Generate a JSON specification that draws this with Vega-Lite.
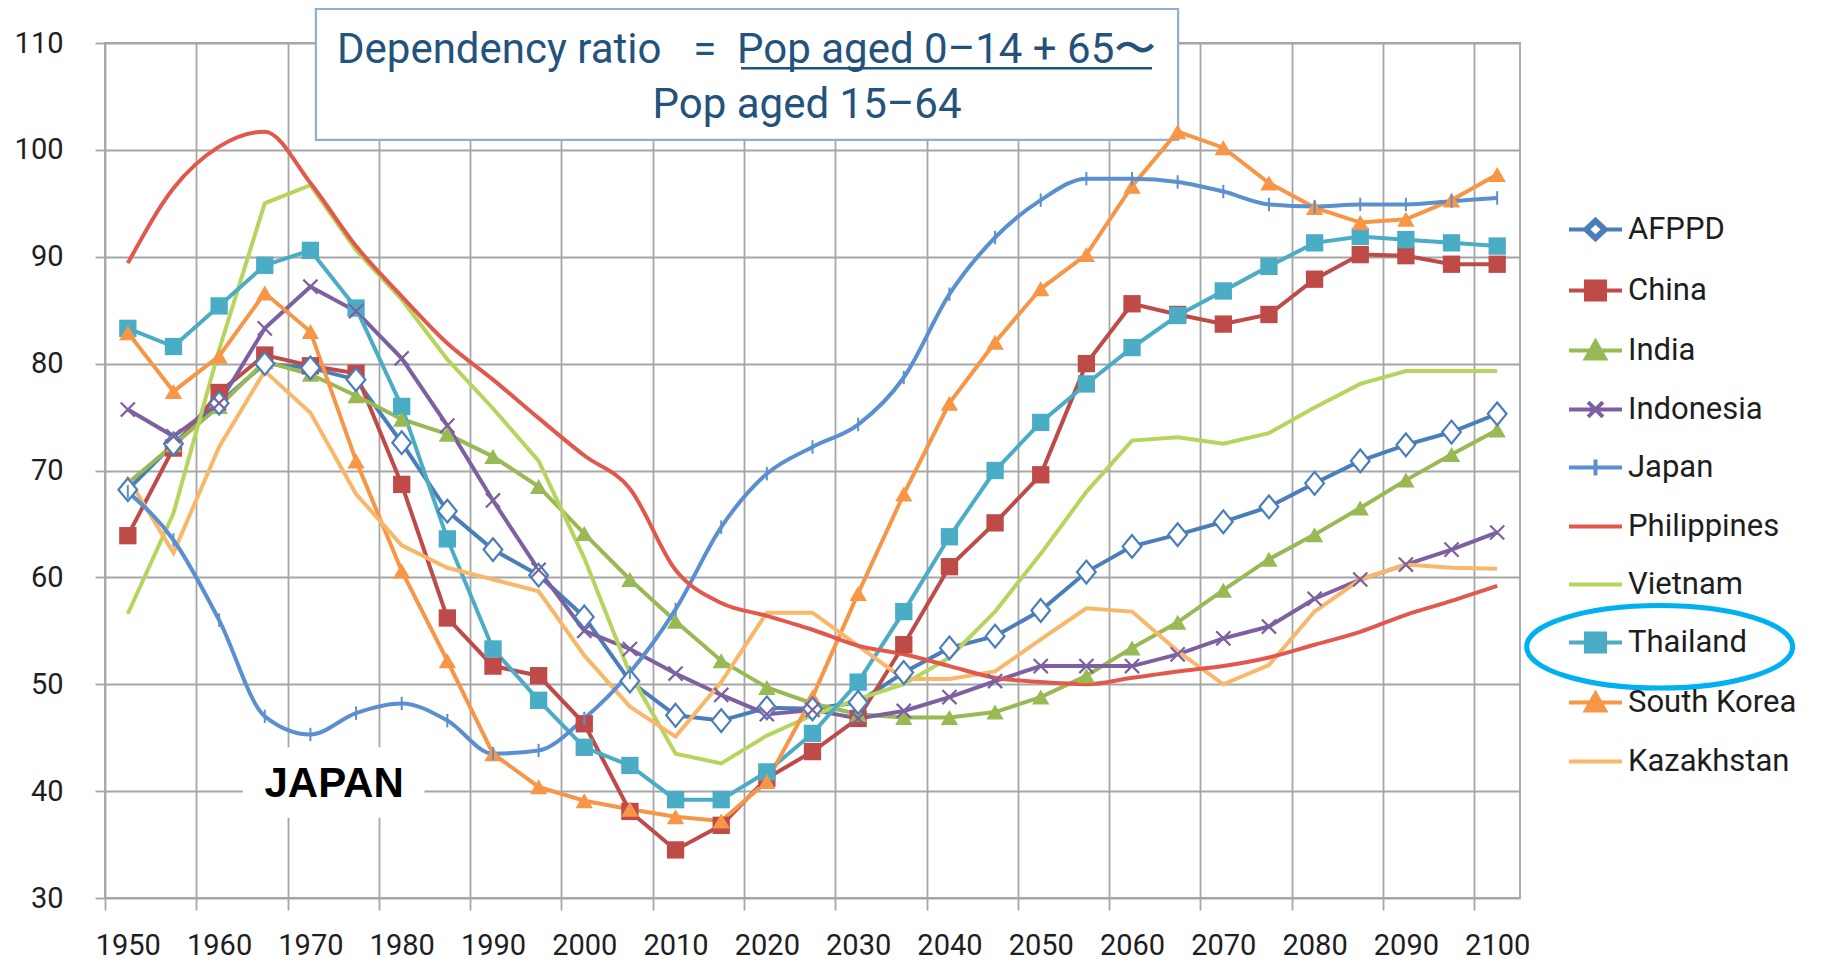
{
"$schema":"https://vega.github.io/schema/vega-lite/v6.json",
"width":1415,"height":855,
"autosize":{"type":"none"},
"padding":{"left":105,"top":43,"right":304,"bottom":66},
"background":"white",
"config":{"view":{"stroke":"#a6a6a6","strokeWidth":1.8},"font":"Roboto"},
"resolve":{"axis":{"x":"independent"}},
"datasets":{"dr":[
{"country":"AFPPD","year":1950,"value":68.2},{"country":"AFPPD","year":1955,"value":72.5},{"country":"AFPPD","year":1960,"value":76.3},{"country":"AFPPD","year":1965,"value":80.0},{"country":"AFPPD","year":1970,"value":79.6},{"country":"AFPPD","year":1975,"value":78.5},{"country":"AFPPD","year":1980,"value":72.6},{"country":"AFPPD","year":1985,"value":66.2},{"country":"AFPPD","year":1990,"value":62.6},{"country":"AFPPD","year":1995,"value":60.2},{"country":"AFPPD","year":2000,"value":56.3},{"country":"AFPPD","year":2005,"value":50.3},{"country":"AFPPD","year":2010,"value":47.1},{"country":"AFPPD","year":2015,"value":46.6},{"country":"AFPPD","year":2020,"value":47.8},{"country":"AFPPD","year":2025,"value":47.7},{"country":"AFPPD","year":2030,"value":48.3},{"country":"AFPPD","year":2035,"value":51.1},{"country":"AFPPD","year":2040,"value":53.4},{"country":"AFPPD","year":2045,"value":54.5},{"country":"AFPPD","year":2050,"value":56.9},{"country":"AFPPD","year":2055,"value":60.5},{"country":"AFPPD","year":2060,"value":62.9},{"country":"AFPPD","year":2065,"value":64.0},{"country":"AFPPD","year":2070,"value":65.2},{"country":"AFPPD","year":2075,"value":66.6},{"country":"AFPPD","year":2080,"value":68.8},{"country":"AFPPD","year":2085,"value":70.9},{"country":"AFPPD","year":2090,"value":72.4},{"country":"AFPPD","year":2095,"value":73.6},{"country":"AFPPD","year":2100,"value":75.3},
{"country":"China","year":1950,"value":63.9},{"country":"China","year":1955,"value":72.1},{"country":"China","year":1960,"value":77.3},{"country":"China","year":1965,"value":80.8},{"country":"China","year":1970,"value":79.8},{"country":"China","year":1975,"value":79.1},{"country":"China","year":1980,"value":68.7},{"country":"China","year":1985,"value":56.2},{"country":"China","year":1990,"value":51.7},{"country":"China","year":1995,"value":50.8},{"country":"China","year":2000,"value":46.3},{"country":"China","year":2005,"value":38.1},{"country":"China","year":2010,"value":34.5},{"country":"China","year":2015,"value":36.8},{"country":"China","year":2020,"value":41.2},{"country":"China","year":2025,"value":43.7},{"country":"China","year":2030,"value":46.8},{"country":"China","year":2035,"value":53.7},{"country":"China","year":2040,"value":61.0},{"country":"China","year":2045,"value":65.1},{"country":"China","year":2050,"value":69.6},{"country":"China","year":2055,"value":80.0},{"country":"China","year":2060,"value":85.6},{"country":"China","year":2065,"value":84.6},{"country":"China","year":2070,"value":83.7},{"country":"China","year":2075,"value":84.6},{"country":"China","year":2080,"value":87.9},{"country":"China","year":2085,"value":90.2},{"country":"China","year":2090,"value":90.1},{"country":"China","year":2095,"value":89.3},{"country":"China","year":2100,"value":89.3},
{"country":"India","year":1950,"value":68.8},{"country":"India","year":1955,"value":72.4},{"country":"India","year":1960,"value":76.0},{"country":"India","year":1965,"value":80.2},{"country":"India","year":1970,"value":79.0},{"country":"India","year":1975,"value":77.0},{"country":"India","year":1980,"value":74.8},{"country":"India","year":1985,"value":73.4},{"country":"India","year":1990,"value":71.3},{"country":"India","year":1995,"value":68.5},{"country":"India","year":2000,"value":64.1},{"country":"India","year":2005,"value":59.8},{"country":"India","year":2010,"value":55.9},{"country":"India","year":2015,"value":52.2},{"country":"India","year":2020,"value":49.7},{"country":"India","year":2025,"value":48.2},{"country":"India","year":2030,"value":47.2},{"country":"India","year":2035,"value":46.9},{"country":"India","year":2040,"value":46.9},{"country":"India","year":2045,"value":47.4},{"country":"India","year":2050,"value":48.8},{"country":"India","year":2055,"value":50.8},{"country":"India","year":2060,"value":53.4},{"country":"India","year":2065,"value":55.8},{"country":"India","year":2070,"value":58.8},{"country":"India","year":2075,"value":61.7},{"country":"India","year":2080,"value":64.0},{"country":"India","year":2085,"value":66.5},{"country":"India","year":2090,"value":69.1},{"country":"India","year":2095,"value":71.5},{"country":"India","year":2100,"value":73.8},
{"country":"Indonesia","year":1950,"value":75.7},{"country":"Indonesia","year":1955,"value":73.2},{"country":"Indonesia","year":1960,"value":76.3},{"country":"Indonesia","year":1965,"value":83.3},{"country":"Indonesia","year":1970,"value":87.2},{"country":"Indonesia","year":1975,"value":84.9},{"country":"Indonesia","year":1980,"value":80.5},{"country":"Indonesia","year":1985,"value":74.2},{"country":"Indonesia","year":1990,"value":67.2},{"country":"Indonesia","year":1995,"value":60.7},{"country":"Indonesia","year":2000,"value":55.0},{"country":"Indonesia","year":2005,"value":53.3},{"country":"Indonesia","year":2010,"value":51.0},{"country":"Indonesia","year":2015,"value":49.0},{"country":"Indonesia","year":2020,"value":47.2},{"country":"Indonesia","year":2025,"value":47.6},{"country":"Indonesia","year":2030,"value":46.8},{"country":"Indonesia","year":2035,"value":47.5},{"country":"Indonesia","year":2040,"value":48.8},{"country":"Indonesia","year":2045,"value":50.3},{"country":"Indonesia","year":2050,"value":51.7},{"country":"Indonesia","year":2055,"value":51.7},{"country":"Indonesia","year":2060,"value":51.7},{"country":"Indonesia","year":2065,"value":52.8},{"country":"Indonesia","year":2070,"value":54.3},{"country":"Indonesia","year":2075,"value":55.4},{"country":"Indonesia","year":2080,"value":58.0},{"country":"Indonesia","year":2085,"value":59.8},{"country":"Indonesia","year":2090,"value":61.2},{"country":"Indonesia","year":2095,"value":62.6},{"country":"Indonesia","year":2100,"value":64.2},
{"country":"Japan","year":1950,"value":68.0},{"country":"Japan","year":1955,"value":63.5},{"country":"Japan","year":1960,"value":56.0},{"country":"Japan","year":1965,"value":47.0},{"country":"Japan","year":1970,"value":45.3},{"country":"Japan","year":1975,"value":47.3},{"country":"Japan","year":1980,"value":48.2},{"country":"Japan","year":1985,"value":46.6},{"country":"Japan","year":1990,"value":43.5},{"country":"Japan","year":1995,"value":43.8},{"country":"Japan","year":2000,"value":46.8},{"country":"Japan","year":2005,"value":51.1},{"country":"Japan","year":2010,"value":57.0},{"country":"Japan","year":2015,"value":64.7},{"country":"Japan","year":2020,"value":69.7},{"country":"Japan","year":2025,"value":72.2},{"country":"Japan","year":2030,"value":74.3},{"country":"Japan","year":2035,"value":78.7},{"country":"Japan","year":2040,"value":86.5},{"country":"Japan","year":2045,"value":91.8},{"country":"Japan","year":2050,"value":95.3},{"country":"Japan","year":2055,"value":97.3},{"country":"Japan","year":2060,"value":97.3},{"country":"Japan","year":2065,"value":97.0},{"country":"Japan","year":2070,"value":96.1},{"country":"Japan","year":2075,"value":94.9},{"country":"Japan","year":2080,"value":94.7},{"country":"Japan","year":2085,"value":94.9},{"country":"Japan","year":2090,"value":94.9},{"country":"Japan","year":2095,"value":95.2},{"country":"Japan","year":2100,"value":95.5},
{"country":"Philippines","year":1950,"value":89.4},{"country":"Philippines","year":1955,"value":96.4},{"country":"Philippines","year":1960,"value":100.3},{"country":"Philippines","year":1965,"value":101.7},{"country":"Philippines","year":1970,"value":96.9},{"country":"Philippines","year":1975,"value":91.0},{"country":"Philippines","year":1980,"value":86.3},{"country":"Philippines","year":1985,"value":81.9},{"country":"Philippines","year":1990,"value":78.5},{"country":"Philippines","year":1995,"value":74.9},{"country":"Philippines","year":2000,"value":71.4},{"country":"Philippines","year":2005,"value":68.3},{"country":"Philippines","year":2010,"value":60.7},{"country":"Philippines","year":2015,"value":57.6},{"country":"Philippines","year":2020,"value":56.4},{"country":"Philippines","year":2025,"value":55.1},{"country":"Philippines","year":2030,"value":53.6},{"country":"Philippines","year":2035,"value":52.8},{"country":"Philippines","year":2040,"value":51.7},{"country":"Philippines","year":2045,"value":50.6},{"country":"Philippines","year":2050,"value":50.2},{"country":"Philippines","year":2055,"value":50.0},{"country":"Philippines","year":2060,"value":50.6},{"country":"Philippines","year":2065,"value":51.2},{"country":"Philippines","year":2070,"value":51.7},{"country":"Philippines","year":2075,"value":52.5},{"country":"Philippines","year":2080,"value":53.7},{"country":"Philippines","year":2085,"value":54.9},{"country":"Philippines","year":2090,"value":56.5},{"country":"Philippines","year":2095,"value":57.8},{"country":"Philippines","year":2100,"value":59.2},
{"country":"Vietnam","year":1950,"value":56.6},{"country":"Vietnam","year":1955,"value":66.0},{"country":"Vietnam","year":1960,"value":81.3},{"country":"Vietnam","year":1965,"value":95.0},{"country":"Vietnam","year":1970,"value":96.7},{"country":"Vietnam","year":1975,"value":90.6},{"country":"Vietnam","year":1980,"value":86.0},{"country":"Vietnam","year":1985,"value":80.4},{"country":"Vietnam","year":1990,"value":75.8},{"country":"Vietnam","year":1995,"value":70.9},{"country":"Vietnam","year":2000,"value":61.8},{"country":"Vietnam","year":2005,"value":51.0},{"country":"Vietnam","year":2010,"value":43.5},{"country":"Vietnam","year":2015,"value":42.6},{"country":"Vietnam","year":2020,"value":45.2},{"country":"Vietnam","year":2025,"value":47.1},{"country":"Vietnam","year":2030,"value":48.6},{"country":"Vietnam","year":2035,"value":50.0},{"country":"Vietnam","year":2040,"value":52.5},{"country":"Vietnam","year":2045,"value":56.8},{"country":"Vietnam","year":2050,"value":62.2},{"country":"Vietnam","year":2055,"value":68.0},{"country":"Vietnam","year":2060,"value":72.8},{"country":"Vietnam","year":2065,"value":73.1},{"country":"Vietnam","year":2070,"value":72.5},{"country":"Vietnam","year":2075,"value":73.5},{"country":"Vietnam","year":2080,"value":75.9},{"country":"Vietnam","year":2085,"value":78.1},{"country":"Vietnam","year":2090,"value":79.3},{"country":"Vietnam","year":2095,"value":79.3},{"country":"Vietnam","year":2100,"value":79.3},
{"country":"Thailand","year":1950,"value":83.3},{"country":"Thailand","year":1955,"value":81.6},{"country":"Thailand","year":1960,"value":85.4},{"country":"Thailand","year":1965,"value":89.2},{"country":"Thailand","year":1970,"value":90.6},{"country":"Thailand","year":1975,"value":85.2},{"country":"Thailand","year":1980,"value":76.0},{"country":"Thailand","year":1985,"value":63.6},{"country":"Thailand","year":1990,"value":53.3},{"country":"Thailand","year":1995,"value":48.5},{"country":"Thailand","year":2000,"value":44.1},{"country":"Thailand","year":2005,"value":42.4},{"country":"Thailand","year":2010,"value":39.2},{"country":"Thailand","year":2015,"value":39.2},{"country":"Thailand","year":2020,"value":41.8},{"country":"Thailand","year":2025,"value":45.4},{"country":"Thailand","year":2030,"value":50.2},{"country":"Thailand","year":2035,"value":56.8},{"country":"Thailand","year":2040,"value":63.8},{"country":"Thailand","year":2045,"value":70.0},{"country":"Thailand","year":2050,"value":74.5},{"country":"Thailand","year":2055,"value":78.1},{"country":"Thailand","year":2060,"value":81.5},{"country":"Thailand","year":2065,"value":84.5},{"country":"Thailand","year":2070,"value":86.8},{"country":"Thailand","year":2075,"value":89.1},{"country":"Thailand","year":2080,"value":91.3},{"country":"Thailand","year":2085,"value":91.9},{"country":"Thailand","year":2090,"value":91.6},{"country":"Thailand","year":2095,"value":91.3},{"country":"Thailand","year":2100,"value":91.0},
{"country":"South Korea","year":1950,"value":82.9},{"country":"South Korea","year":1955,"value":77.4},{"country":"South Korea","year":1960,"value":80.7},{"country":"South Korea","year":1965,"value":86.6},{"country":"South Korea","year":1970,"value":83.0},{"country":"South Korea","year":1975,"value":70.9},{"country":"South Korea","year":1980,"value":60.6},{"country":"South Korea","year":1985,"value":52.2},{"country":"South Korea","year":1990,"value":43.5},{"country":"South Korea","year":1995,"value":40.4},{"country":"South Korea","year":2000,"value":39.1},{"country":"South Korea","year":2005,"value":38.3},{"country":"South Korea","year":2010,"value":37.6},{"country":"South Korea","year":2015,"value":37.2},{"country":"South Korea","year":2020,"value":40.9},{"country":"South Korea","year":2025,"value":48.8},{"country":"South Korea","year":2030,"value":58.5},{"country":"South Korea","year":2035,"value":67.8},{"country":"South Korea","year":2040,"value":76.3},{"country":"South Korea","year":2045,"value":82.0},{"country":"South Korea","year":2050,"value":87.0},{"country":"South Korea","year":2055,"value":90.2},{"country":"South Korea","year":2060,"value":96.6},{"country":"South Korea","year":2065,"value":101.7},{"country":"South Korea","year":2070,"value":100.2},{"country":"South Korea","year":2075,"value":96.9},{"country":"South Korea","year":2080,"value":94.6},{"country":"South Korea","year":2085,"value":93.2},{"country":"South Korea","year":2090,"value":93.5},{"country":"South Korea","year":2095,"value":95.3},{"country":"South Korea","year":2100,"value":97.7},
{"country":"Kazakhstan","year":1950,"value":69.3},{"country":"Kazakhstan","year":1955,"value":62.3},{"country":"Kazakhstan","year":1960,"value":72.2},{"country":"Kazakhstan","year":1965,"value":79.3},{"country":"Kazakhstan","year":1970,"value":75.4},{"country":"Kazakhstan","year":1975,"value":67.8},{"country":"Kazakhstan","year":1980,"value":63.0},{"country":"Kazakhstan","year":1985,"value":60.9},{"country":"Kazakhstan","year":1990,"value":59.8},{"country":"Kazakhstan","year":1995,"value":58.7},{"country":"Kazakhstan","year":2000,"value":52.7},{"country":"Kazakhstan","year":2005,"value":47.9},{"country":"Kazakhstan","year":2010,"value":45.1},{"country":"Kazakhstan","year":2015,"value":50.2},{"country":"Kazakhstan","year":2020,"value":56.7},{"country":"Kazakhstan","year":2025,"value":56.7},{"country":"Kazakhstan","year":2030,"value":53.6},{"country":"Kazakhstan","year":2035,"value":50.5},{"country":"Kazakhstan","year":2040,"value":50.5},{"country":"Kazakhstan","year":2045,"value":51.2},{"country":"Kazakhstan","year":2050,"value":54.2},{"country":"Kazakhstan","year":2055,"value":57.1},{"country":"Kazakhstan","year":2060,"value":56.8},{"country":"Kazakhstan","year":2065,"value":53.1},{"country":"Kazakhstan","year":2070,"value":50.0},{"country":"Kazakhstan","year":2075,"value":51.8},{"country":"Kazakhstan","year":2080,"value":56.8},{"country":"Kazakhstan","year":2085,"value":59.8},{"country":"Kazakhstan","year":2090,"value":61.2},{"country":"Kazakhstan","year":2095,"value":60.9},{"country":"Kazakhstan","year":2100,"value":60.8}
]},
"layer":[
{"data":{"values":[{}]},
 "mark":{"type":"rect","fill":"white","stroke":"#8fb0cf","strokeWidth":2.2},
 "encoding":{
  "x":{"datum":1970.6,"type":"quantitative","scale":{"domain":[1947.5,2102.5],"nice":false,"zero":false},
   "axis":{"orient":"bottom","values":[1947.5,1957.5,1967.5,1977.5,1987.5,1997.5,2007.5,2017.5,2027.5,2037.5,2047.5,2057.5,2067.5,2077.5,2087.5,2097.5],"labels":false,"grid":true,"gridColor":"#a6a6a6","gridWidth":1.8,"ticks":true,"tickSize":12,"tickColor":"#a6a6a6","tickWidth":1.8,"domain":false,"title":null}},
  "x2":{"datum":2065.05},
  "y":{"datum":113.18,"type":"quantitative","scale":{"domain":[30,110],"nice":false,"zero":false},
   "axis":{"values":[30,40,50,60,70,80,90,100,110],"grid":true,"gridColor":"#a6a6a6","gridWidth":1.8,"ticks":true,"tickSize":10,"tickColor":"#a6a6a6","tickWidth":1.8,"domain":false,"labelFont":"Roboto","labelFontSize":29,"labelColor":"#1e1e1e","labelPadding":32,"title":null}},
  "y2":{"datum":100.93}}},
{"data":{"values":[{}]},
 "mark":{"type":"rect","fill":"white"},
 "encoding":{
  "x":{"datum":1962.6,"type":"quantitative",
   "axis":{"orient":"bottom","format":"d","values":[1950,1960,1970,1980,1990,2000,2010,2020,2030,2040,2050,2060,2070,2080,2090,2100],"grid":false,"ticks":false,"tickSize":0,"domain":false,"labelFont":"Roboto","labelFontSize":29,"labelColor":"#1e1e1e","labelPadding":33,"labelFlush":false,"labelOverlap":false,"title":null}},
  "x2":{"datum":1982.5},
  "y":{"datum":44.1,"type":"quantitative"},
  "y2":{"datum":37.5}}},
{"data":{"name":"dr"},
 "transform":[{"filter":"datum.country !== 'Philippines' && datum.country !== 'Japan'"}],
 "mark":{"type":"line","strokeWidth":4,"interpolate":"linear"},
 "encoding":{
  "x":{"field":"year","type":"quantitative","axis":null},
  "y":{"field":"value","type":"quantitative"},
  "color":{"field":"country","type":"nominal",
   "scale":{"domain":["AFPPD","China","India","Indonesia","Japan","Philippines","Vietnam","Thailand","South Korea","Kazakhstan"],
            "range":["#4a7ebb","#be4b48","#98b954","#7d60a0","#5a8fd0","#e2584d","#b5d55d","#4bacc6","#f79646","#f9b76a"]},
   "legend":{"orient":"none","legendX":1462,"legendY":158,"title":null,"padding":0,
    "labelFont":"Roboto","labelFontSize":31,"labelColor":"#1e1e1e","labelOffset":4,"labelLimit":400,
    "rowPadding":14,"symbolSize":2809,"symbolStrokeWidth":4,"symbolType":"M-1,0H1",
    "encode":{"symbols":{"update":{
     "shape":{"signal":"datum.value === 'AFPPD' ? 'M-1,0H-0.4M0.4,0H1M-0.4,0L0,-0.38L0.4,0L0,0.38ZM-0.3,0L0,0.28L0.3,0L0,-0.28Z' : (datum.value === 'China' || datum.value === 'Thailand') ? 'M-1,0H1M-0.36,-0.34H0.36V0.34H-0.36Z' : (datum.value === 'India' || datum.value === 'South Korea') ? 'M-1,0H1M-0.36,0.3L0,-0.34L0.36,0.3Z' : datum.value === 'Indonesia' ? 'M-1,0H1M-0.28,-0.28L0.28,0.28M-0.28,0.28L0.28,-0.28' : datum.value === 'Japan' ? 'M-1,0H1M0,-0.3V0.3' : 'M-1,0H1'"},
     "stroke":{"signal":"scale('color', datum.value)"},
     "strokeWidth":{"value":4},
     "opacity":{"value":1},
     "size":{"value":2809}}}}}}}},
{"data":{"name":"dr"},
 "transform":[{"filter":"datum.country === 'Philippines' || datum.country === 'Japan'"}],
 "mark":{"type":"line","strokeWidth":4,"interpolate":"monotone"},
 "encoding":{
  "x":{"field":"year","type":"quantitative","axis":null},
  "y":{"field":"value","type":"quantitative"},
  "color":{"field":"country","type":"nominal"}}},
{"data":{"name":"dr"},
 "transform":[{"filter":"datum.country === 'China' || datum.country === 'Thailand'"}],
 "mark":{"type":"point","shape":"square","filled":true,"size":300,"opacity":1},
 "encoding":{
  "x":{"field":"year","type":"quantitative","axis":null},
  "y":{"field":"value","type":"quantitative"},
  "color":{"field":"country","type":"nominal"}}},
{"data":{"name":"dr"},
 "transform":[{"filter":"datum.country === 'India' || datum.country === 'South Korea'"}],
 "mark":{"type":"point","shape":"triangle-up","filled":true,"size":300,"opacity":1},
 "encoding":{
  "x":{"field":"year","type":"quantitative","axis":null},
  "y":{"field":"value","type":"quantitative"},
  "color":{"field":"country","type":"nominal"}}},
{"data":{"name":"dr"},
 "transform":[{"filter":"datum.country === 'AFPPD'"}],
 "mark":{"type":"point","shape":"M0,-1L0.82,0L0,1L-0.82,0Z","filled":true,"fill":"#ffffff","stroke":"#4a7ebb","strokeWidth":2.2,"size":520,"opacity":1},
 "encoding":{
  "x":{"field":"year","type":"quantitative","axis":null},
  "y":{"field":"value","type":"quantitative"}}},
{"data":{"name":"dr"},
 "transform":[{"filter":"datum.country === 'Indonesia'"}],
 "mark":{"type":"point","shape":"M-1,-1L1,1M-1,1L1,-1","filled":false,"stroke":"#7d60a0","strokeWidth":2.2,"size":200,"opacity":1},
 "encoding":{
  "x":{"field":"year","type":"quantitative","axis":null},
  "y":{"field":"value","type":"quantitative"}}},
{"data":{"name":"dr"},
 "transform":[{"filter":"datum.country === 'Japan'"}],
 "mark":{"type":"point","shape":"M0,-1V1","filled":false,"stroke":"#5a8fd0","strokeWidth":2,"size":180,"opacity":1},
 "encoding":{
  "x":{"field":"year","type":"quantitative","axis":null},
  "y":{"field":"value","type":"quantitative"}}},
{"data":{"values":[{}]},
 "mark":{"type":"text","text":"Dependency ratio","align":"left","baseline":"alphabetic","font":"Roboto","fontSize":42,"color":"#23527c"},
 "encoding":{"x":{"datum":1972.91,"type":"quantitative","axis":null},"y":{"datum":108.13,"type":"quantitative"}}},
{"data":{"values":[{}]},
 "mark":{"type":"text","text":"=","align":"center","baseline":"alphabetic","font":"Roboto","fontSize":42,"color":"#23527c"},
 "encoding":{"x":{"datum":2013.2,"type":"quantitative","axis":null},"y":{"datum":108.13,"type":"quantitative"}}},
{"data":{"values":[{}]},
 "mark":{"type":"text","text":"Pop aged 0–14 + 65〜","align":"center","baseline":"alphabetic","font":"Roboto","fontSize":42,"color":"#23527c"},
 "encoding":{"x":{"datum":2039.7,"type":"quantitative","axis":null},"y":{"datum":108.13,"type":"quantitative"}}},
{"data":{"values":[{}]},
 "mark":{"type":"text","text":"Pop aged 15–64","align":"center","baseline":"alphabetic","font":"Roboto","fontSize":42,"color":"#23527c"},
 "encoding":{"x":{"datum":2024.4,"type":"quantitative","axis":null},"y":{"datum":102.98,"type":"quantitative"}}},
{"data":{"values":[{}]},
 "mark":{"type":"rule","color":"#23527c","strokeWidth":2.5},
 "encoding":{"x":{"datum":2017.17,"type":"quantitative","axis":null},"x2":{"datum":2062.19},"y":{"datum":107.63,"type":"quantitative"}}},
{"data":{"values":[{}]},
 "mark":{"type":"text","text":"JAPAN","align":"center","baseline":"middle","font":"Liberation Sans","fontWeight":"bold","fontSize":42,"color":"#000000"},
 "encoding":{"x":{"datum":1972.6,"type":"quantitative","axis":null},"y":{"datum":40.7,"type":"quantitative"}}},
{"data":{"values":[{}]},
 "mark":{"type":"point","shape":"M-1,0A1,0.31,0,1,1,1,0A1,0.31,0,1,1,-1,0Z","filled":false,"stroke":"#00b0f0","strokeWidth":5,"size":70756,"opacity":1},
 "encoding":{"x":{"datum":2117.8,"type":"quantitative","axis":null},"y":{"datum":53.5,"type":"quantitative"}}}
]
}
